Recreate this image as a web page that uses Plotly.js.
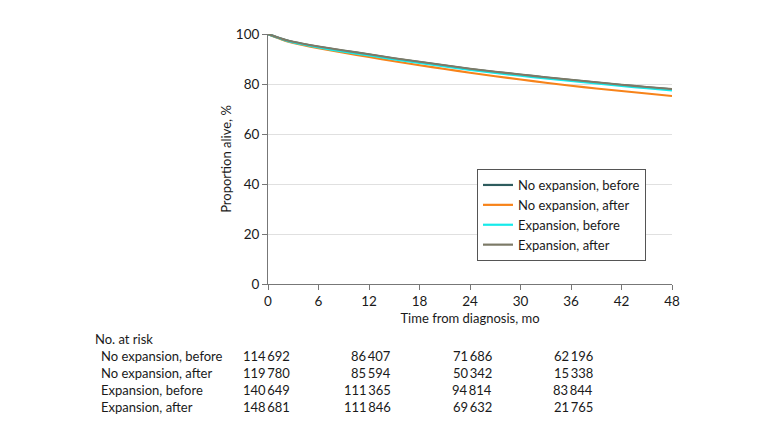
<!DOCTYPE html>
<html>
<head>
<meta charset="utf-8">
<script src="https://cdn.plot.ly/plotly-3.0.1.min.js"></script>
<style>html,body{margin:0;padding:0;background:#fff;}#chart{width:780px;height:425px;}</style>
</head>
<body>
<div id="chart"></div>
<script>
// ---- data ----
const months = [0, 1, 2, 3, 6, 9, 12, 15, 18, 21, 24, 27, 30, 33, 36, 39, 42, 45, 48];
const noExpBefore = [100, 98.8, 97.7, 96.8, 94.9, 93.3, 91.8, 90.2, 88.8, 87.4, 86.0, 84.8, 83.7, 82.6, 81.6, 80.6, 79.6, 78.7, 77.9];
const noExpAfter  = [100, 98.6, 97.3, 96.4, 94.3, 92.5, 90.8, 89.1, 87.5, 86.0, 84.5, 83.1, 81.8, 80.5, 79.3, 78.2, 77.2, 76.2, 75.2];
const expBefore   = [100, 98.7, 97.5, 96.6, 94.6, 92.9, 91.4, 89.8, 88.4, 87.0, 85.6, 84.4, 83.3, 82.2, 81.2, 80.2, 79.2, 78.3, 77.4];
const expAfter    = [100, 98.8, 97.7, 96.9, 95.0, 93.4, 91.9, 90.3, 88.9, 87.5, 86.1, 84.9, 83.8, 82.7, 81.7, 80.7, 79.7, 78.8, 78.0];

const seriesNames = ["No expansion, before", "No expansion, after", "Expansion, before", "Expansion, after"];
const seriesColors = ["#2E5C5E", "#F7831A", "#16EAEA", "#7C7A67"];

const riskMonths = [0, 12, 24, 36];
const riskNoExpBefore = [114692, 86407, 71686, 62196];
const riskNoExpAfter  = [119780, 85594, 50342, 15338];
const riskExpBefore   = [140649, 111365, 94814, 83844];
const riskExpAfter    = [148681, 111846, 69632, 21765];

const xTicks = [0, 6, 12, 18, 24, 30, 36, 42, 48];
const yTicks = [0, 20, 40, 60, 80, 100];

// ---- layout helpers ----
const W = 780, H = 425;
const L = 268, R = 672, T = 34, B = 284;
const px = v => (v - L) / (R - L);
const py = v => (B - v) / (B - T);
const FONT = "Lato, 'Liberation Sans', sans-serif";
const FS = 13;
const TXT = "#1a1a1a";
const fmt = n => { const s = String(n); return s.length > 3 ? s.slice(0, s.length - 3) + "\u2009" + s.slice(s.length - 3) : s; };

const ys = [noExpBefore, noExpAfter, expBefore, expAfter];
const traces = ys.map((y, i) => ({
  x: months, y: y, type: "scatter", mode: "lines",
  name: seriesNames[i],
  line: {color: seriesColors[i], width: 2.2, shape: "spline", smoothing: 0.6}
}));

const annotations = [];
annotations.push({xref: "paper", yref: "paper", x: px(93), y: py(339), xanchor: "left", yanchor: "middle",
  text: "No. at risk", showarrow: false, font: {family: FONT, size: FS, color: TXT}});
const riskRows = [riskNoExpBefore, riskNoExpAfter, riskExpBefore, riskExpAfter];
const rowY = [356, 373, 390, 407];
riskRows.forEach((row, r) => {
  annotations.push({xref: "paper", yref: "paper", x: px(99), y: py(rowY[r]), xanchor: "left", yanchor: "middle",
    text: seriesNames[r], showarrow: false, font: {family: FONT, size: FS, color: TXT}});
  row.forEach((v, c) => {
    annotations.push({xref: "x", yref: "paper", x: riskMonths[c], xshift: 24, y: py(rowY[r]), xanchor: "right", yanchor: "middle",
      text: fmt(v), showarrow: false, font: {family: FONT, size: FS, color: TXT}});
  });
});

const layout = {
  width: W, height: H,
  margin: {l: L, r: W - R, t: T, b: H - B, pad: 0},
  paper_bgcolor: "#fff", plot_bgcolor: "#fff",
  font: {family: FONT, size: FS, color: TXT},
  showlegend: true,
  legend: {x: px(477), y: py(169), xanchor: "left", yanchor: "top",
    bgcolor: "#fff", bordercolor: "#555", borderwidth: 1,
    font: {family: FONT, size: FS, color: TXT}},
  xaxis: {range: [0, 48], tickvals: xTicks, ticktext: xTicks.map(String),
    showgrid: false, zeroline: false, showline: true, linecolor: "#777", linewidth: 1,
    ticks: "outside", ticklen: 5, tickcolor: "#777",
    tickfont: {family: FONT, size: 13.5, color: TXT},
    title: {text: "Time from diagnosis, mo", font: {family: FONT, size: FS, color: TXT}, standoff: 5}},
  yaxis: {range: [0, 100], tickvals: yTicks, ticktext: yTicks.map(String),
    showgrid: true, gridcolor: "#e0e0e0", gridwidth: 1, zeroline: false,
    showline: true, linecolor: "#777", linewidth: 1,
    ticks: "outside", ticklen: 5, tickcolor: "#777",
    tickfont: {family: FONT, size: 13.5, color: TXT},
    title: {text: "Proportion alive, %", font: {family: FONT, size: FS, color: TXT}, standoff: 1}},
  annotations: annotations
};

Plotly.newPlot("chart", traces, layout, {staticPlot: true, displayModeBar: false});
</script>
</body>
</html>
